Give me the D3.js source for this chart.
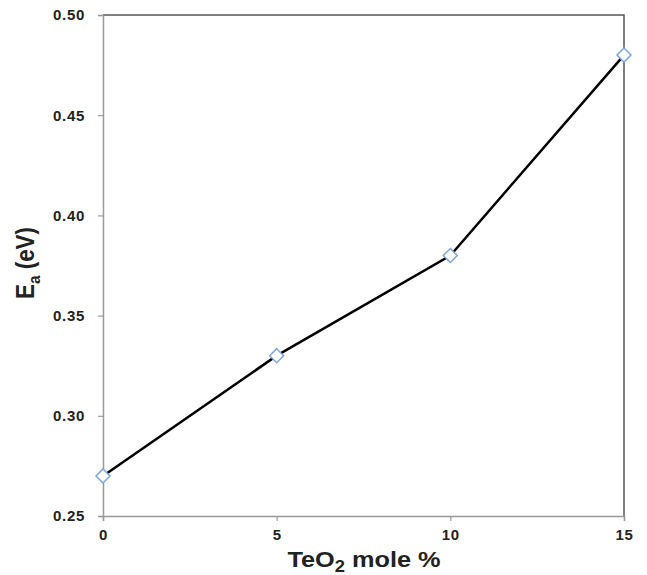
<!DOCTYPE html>
<html><head><meta charset="utf-8">
<script src="https://cdn.jsdelivr.net/npm/d3@7"></script>
<style>body{margin:0;background:#fff;}svg{display:block;font-family:Arial,"Liberation Sans",sans-serif;}</style>
</head><body>
<svg id="c" width="647" height="575"></svg>
<script>
const xValues = [0, 5, 10, 15];
const eaValues = [0.27, 0.33, 0.38, 0.48];
const xTicks = [0, 5, 10, 15];
const yTicks = [0.25, 0.30, 0.35, 0.40, 0.45, 0.50];

const svg = d3.select("#c");
const L = 103, R = 624, T = 15, B = 516;
const x = d3.scaleLinear().domain([0, 15]).range([L, R]);
const y = d3.scaleLinear().domain([0.25, 0.50]).range([B, T]);

// frame top/right
svg.append("path").attr("d", `M${L},${T}H${R}V${B}`).attr("fill","none").attr("stroke","#555").attr("stroke-width",1.5);

const yAxis = svg.append("g").attr("transform",`translate(${L},0)`)
  .call(d3.axisLeft(y).tickValues(yTicks).tickFormat(d3.format(".2f")).tickSize(5).tickPadding(13));
const xAxis = svg.append("g").attr("transform",`translate(0,${B})`)
  .call(d3.axisBottom(x).tickValues(xTicks).tickFormat(d3.format("d")).tickSize(5).tickPadding(8));
[yAxis, xAxis].forEach(g => {
  g.select(".domain").attr("stroke","#999").attr("stroke-width",1.5);
  g.selectAll(".tick line").attr("stroke","#999").attr("stroke-width",1.2);
  g.selectAll(".tick text").attr("fill","#222").style("font-size","15px").style("font-weight","bold")
    .style("letter-spacing","0.7px")
    .style("font-family","Arial, 'Liberation Sans', sans-serif");
});

const data = xValues.map((v,i)=>({x:v, y:eaValues[i]}));
svg.append("path").datum(data)
  .attr("d", d3.line().x(d=>x(d.x)).y(d=>y(d.y)))
  .attr("fill","none").attr("stroke","#000").attr("stroke-width",2.5);

svg.selectAll(".m").data(data).enter().append("path")
  .attr("transform", d=>`translate(${x(d.x)},${y(d.y)})`)
  .attr("d","M0,-7L7,0L0,7L-7,0Z")
  .attr("fill","#fff").attr("stroke","#7fa6d8").attr("stroke-width",1.5);

// x title
const xt = svg.append("text").attr("transform","translate(364,567) scale(1.15,1)").attr("text-anchor","middle")
  .style("font-size","22px").style("font-weight","bold").attr("fill","#222");
xt.append("tspan").text("TeO");
xt.append("tspan").text("2").style("font-size","16px").attr("dy", 5);
xt.append("tspan").text(" mole %").attr("dy", -5);

// y title
const yt = svg.append("text").attr("transform","translate(34,263) rotate(-90) scale(1.02,1.15)").attr("text-anchor","middle")
  .style("font-size","22px").style("font-weight","bold").attr("fill","#222");
yt.append("tspan").text("E");
yt.append("tspan").text("a").style("font-size","15px").attr("dy", 5);
yt.append("tspan").text(" (eV)").attr("dy", -5);
</script>
</body></html>
